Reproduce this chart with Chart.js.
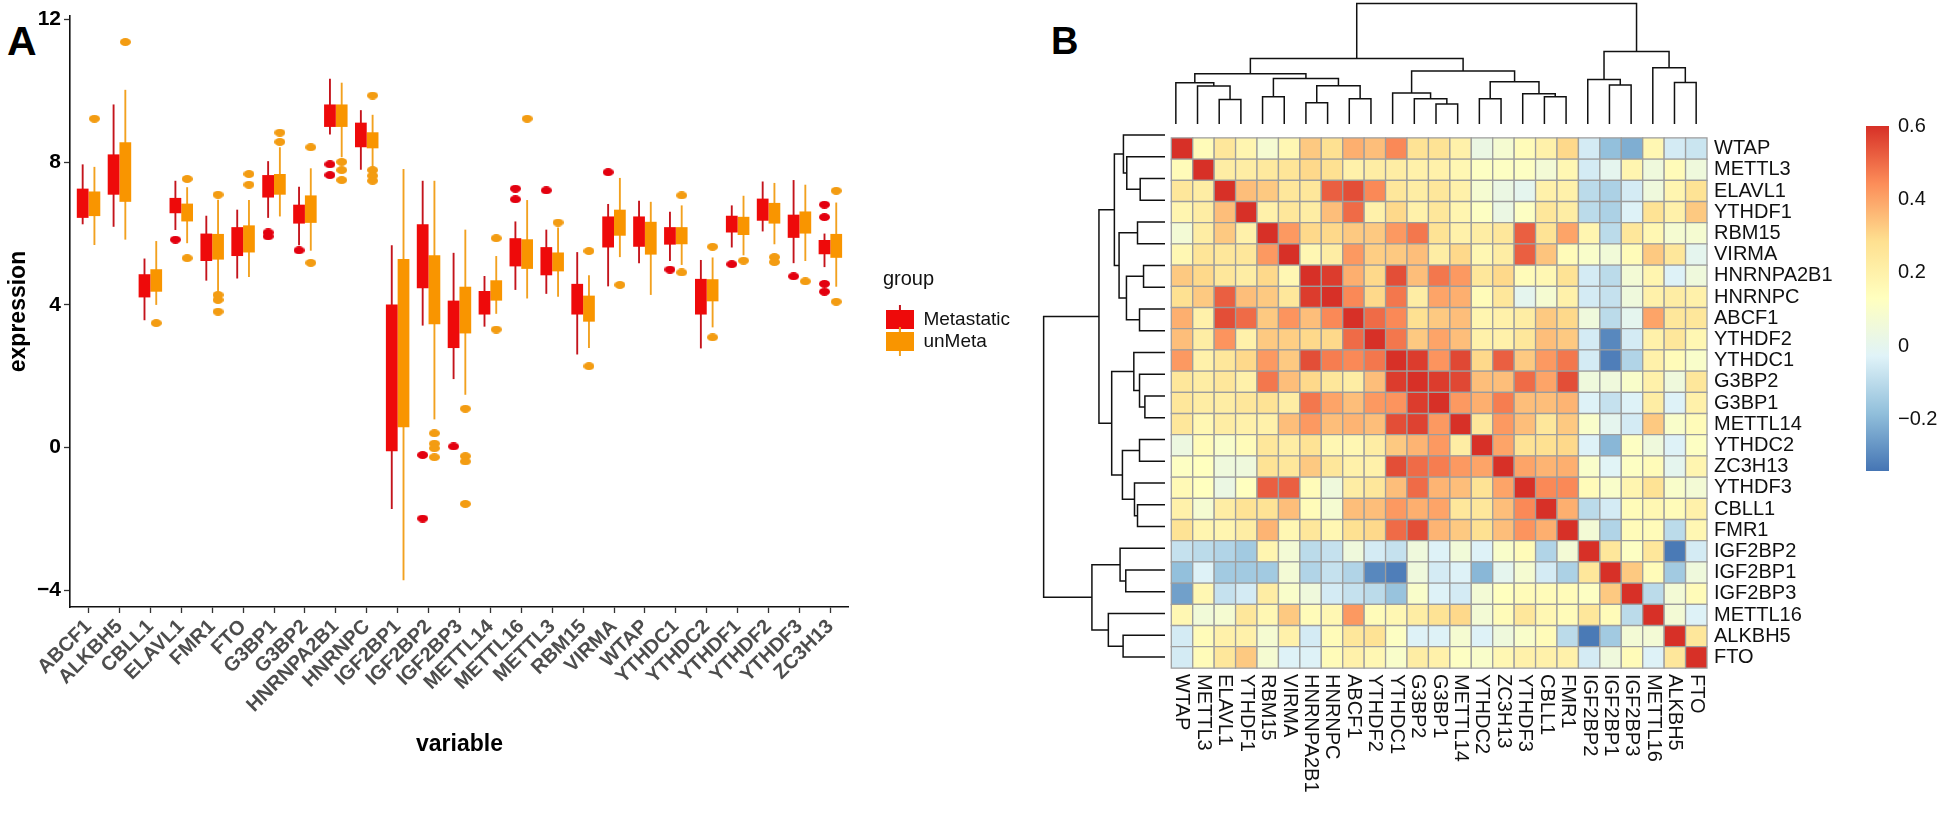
<!DOCTYPE html>
<html>
<head>
<meta charset="utf-8">
<script src="https://cdn.jsdelivr.net/npm/chart.js@4.4.1/dist/chart.umd.min.js"></script>
<style>
  html, body { margin: 0; padding: 0; background: #fff; }
  body { width: 1946px; height: 813px; position: relative; overflow: hidden; font-family: 'Liberation Sans', Arial, sans-serif; }
  canvas { position: absolute; }
  .tag { position: absolute; font-weight: bold; color: #000; line-height: 1; }
</style>
</head>
<body>
<div class="tag" style="left:7px;top:21px;font-size:41px;">A</div>
<div class="tag" style="left:1051px;top:22px;font-size:38px;">B</div>
<canvas id="boxChart" width="1025" height="813" style="left:0;top:0"></canvas>
<canvas id="topTree" width="542" height="124" style="left:1165px;top:0"></canvas>
<canvas id="leftTree" width="125" height="544" style="left:1040px;top:124px"></canvas>
<canvas id="heatChart" width="708" height="690" style="left:1160px;top:119px"></canvas>
<canvas id="colorKey" width="80" height="387" style="left:1866px;top:105px"></canvas>
<script>
// ---------- Panel A: expression by gene and group ----------
const genes = ['ABCF1', 'ALKBH5', 'CBLL1', 'ELAVL1', 'FMR1', 'FTO', 'G3BP1', 'G3BP2', 'HNRNPA2B1', 'HNRNPC',
  'IGF2BP1', 'IGF2BP2', 'IGF2BP3', 'METTL14', 'METTL16', 'METTL3', 'RBM15', 'VIRMA', 'WTAP', 'YTHDC1',
  'YTHDC2', 'YTHDF1', 'YTHDF2', 'YTHDF3', 'ZC3H13'];
const groups = ['Metastatic', 'unMeta'];

// Metastatic: whisker ends, box edges, outliers
const metLow  = [6.26, 6.19, 3.57, 6.10, 4.68, 4.74, 6.44, 5.67, 8.78, 7.79, -1.72, 3.42, 1.92, 3.39, 4.42, 4.31, 2.61, 4.52, 5.17, 5.23, 2.78, 5.61, 6.06, 5.17, 5.06];
const metQ1   = [6.44, 7.09, 4.21, 6.57, 5.23, 5.37, 7.01, 6.28, 8.99, 8.42, -0.10, 4.47, 2.79, 3.73, 5.08, 4.83, 3.73, 5.61, 5.63, 5.69, 3.73, 6.03, 6.36, 5.88, 5.42];
const metQ3   = [7.26, 8.22, 4.86, 7.00, 6.00, 6.18, 7.64, 6.81, 9.62, 9.11, 4.01, 6.26, 4.12, 4.39, 5.87, 5.62, 4.59, 6.48, 6.48, 6.18, 4.73, 6.50, 6.98, 6.53, 5.82];
const metHigh = [7.94, 9.62, 5.30, 7.48, 6.50, 6.67, 8.03, 7.31, 10.34, 9.46, 5.67, 7.48, 5.46, 4.81, 6.34, 6.11, 5.48, 6.83, 6.92, 6.61, 5.26, 6.79, 7.46, 7.50, 6.00];
const metOut  = [[], [], [], [5.83], [], [], [6.03, 5.92], [5.53], [7.94, 7.64], [], [], [-0.21, -1.99], [0.03], [],
  [7.26, 6.96], [7.21], [], [7.72], [], [4.99], [], [5.14], [], [4.80], [6.81, 6.46, 4.59, 4.37]];

// unMeta
const unLow  = [5.68, 5.83, 4.00, 5.73, 4.37, 4.78, 6.48, 5.52, 8.14, 7.81, -3.72, 0.79, 1.48, 3.75, 4.18, 4.23, 2.79, 5.34, 4.28, 5.12, 3.37, 5.39, 5.70, 5.23, 4.51];
const unQ1   = [6.49, 6.89, 4.37, 6.34, 5.27, 5.47, 7.09, 6.30, 8.99, 8.39, 0.57, 3.46, 3.20, 4.12, 5.01, 4.94, 3.53, 5.94, 5.41, 5.70, 4.10, 5.96, 6.28, 6.00, 5.32];
const unQ3   = [7.18, 8.56, 5.00, 6.84, 5.99, 6.23, 7.67, 7.07, 9.62, 8.84, 5.29, 5.39, 4.51, 4.69, 5.84, 5.47, 4.26, 6.67, 6.33, 6.18, 4.72, 6.47, 6.86, 6.62, 5.99];
const unHigh = [7.87, 10.03, 5.79, 7.30, 6.95, 6.94, 8.42, 7.83, 10.23, 9.33, 7.81, 7.48, 6.11, 5.37, 6.94, 6.17, 4.83, 7.56, 6.89, 6.79, 5.33, 7.06, 7.42, 7.37, 6.87];
const unOut  = [[9.22], [11.37], [3.49], [7.53, 5.31], [7.09, 4.28, 4.14, 3.81], [7.67, 7.37], [8.83, 8.57], [8.42, 5.18],
  [8.01, 7.78, 7.50], [9.87, 7.78, 7.62, 7.48], [], [0.40, 0.11, -0.02, -0.27], [1.09, -0.24, -0.39, -1.58], [5.87, 3.31],
  [9.22], [6.31], [5.51, 2.28], [4.56], [], [7.07, 4.91], [5.63, 3.09], [5.24], [5.34, 5.20], [4.66], [7.20, 4.09]];

const yTicksA = [-4, 0, 4, 8, 12];

// ---------- Panel B: correlation heatmap ----------
const hmOrder = ['WTAP', 'METTL3', 'ELAVL1', 'YTHDF1', 'RBM15', 'VIRMA', 'HNRNPA2B1', 'HNRNPC', 'ABCF1', 'YTHDF2',
  'YTHDC1', 'G3BP2', 'G3BP1', 'METTL14', 'YTHDC2', 'ZC3H13', 'YTHDF3', 'CBLL1', 'FMR1', 'IGF2BP2',
  'IGF2BP1', 'IGF2BP3', 'METTL16', 'ALKBH5', 'FTO'];

const corrRows = [
  [1, 0.15, 0.25, 0.18, 0.08, 0.17, 0.33, 0.28, 0.38, 0.35, 0.45, 0.27, 0.27, 0.20, 0.03, 0.08, 0.15, 0.20, 0.30, -0.05, -0.18, -0.22, 0.17, -0.05, -0.07],
  [0.15, 1, 0.22, 0.22, 0.24, 0.26, 0.30, 0.28, 0.20, 0.22, 0.22, 0.20, 0.20, 0.17, 0.12, 0.12, 0.12, 0.07, 0.17, -0.05, 0.00, 0.18, 0.05, 0.15, 0.05],
  [0.25, 0.22, 1, 0.35, 0.33, 0.25, 0.25, 0.52, 0.55, 0.45, 0.25, 0.22, 0.25, 0.20, 0.08, 0.03, 0.00, 0.20, 0.20, -0.10, -0.13, -0.05, 0.05, 0.18, 0.27],
  [0.18, 0.22, 0.35, 1, 0.20, 0.25, 0.22, 0.35, 0.50, 0.20, 0.30, 0.20, 0.25, 0.18, 0.12, 0.03, 0.12, 0.25, 0.22, -0.10, -0.13, -0.03, 0.27, 0.20, 0.33],
  [0.07, 0.22, 0.33, 0.20, 1, 0.42, 0.30, 0.30, 0.33, 0.33, 0.42, 0.48, 0.27, 0.20, 0.22, 0.25, 0.52, 0.27, 0.40, 0.18, -0.10, 0.25, 0.17, 0.08, 0.08],
  [0.17, 0.26, 0.25, 0.25, 0.42, 1, 0.17, 0.22, 0.42, 0.32, 0.33, 0.35, 0.22, 0.30, 0.17, 0.22, 0.52, 0.34, 0.15, 0.10, 0.06, 0.15, 0.33, 0.25, 0.00],
  [0.33, 0.30, 0.25, 0.22, 0.30, 0.17, 1, 0.58, 0.38, 0.30, 0.55, 0.35, 0.48, 0.42, 0.25, 0.30, 0.15, 0.17, 0.27, -0.05, -0.10, 0.07, 0.18, -0.03, 0.05],
  [0.28, 0.33, 0.52, 0.35, 0.33, 0.25, 0.58, 1, 0.45, 0.30, 0.48, 0.22, 0.40, 0.38, 0.15, 0.25, 0.00, 0.08, 0.20, -0.05, -0.08, 0.05, 0.20, 0.22, 0.20],
  [0.38, 0.20, 0.55, 0.50, 0.33, 0.43, 0.35, 0.45, 1, 0.50, 0.45, 0.28, 0.33, 0.35, 0.18, 0.20, 0.22, 0.33, 0.30, 0.05, -0.10, 0.00, 0.40, 0.25, 0.25],
  [0.35, 0.22, 0.43, 0.20, 0.33, 0.32, 0.30, 0.30, 0.50, 1, 0.48, 0.33, 0.40, 0.35, 0.20, 0.20, 0.25, 0.35, 0.33, -0.05, -0.30, -0.05, 0.20, 0.25, 0.17],
  [0.42, 0.20, 0.25, 0.30, 0.42, 0.33, 0.55, 0.47, 0.45, 0.48, 1, 0.58, 0.43, 0.56, 0.30, 0.52, 0.33, 0.42, 0.48, -0.05, -0.32, -0.12, 0.20, 0.15, 0.10],
  [0.25, 0.22, 0.25, 0.20, 0.48, 0.35, 0.30, 0.25, 0.22, 0.35, 0.58, 1, 0.58, 0.56, 0.35, 0.35, 0.50, 0.40, 0.55, 0.05, 0.05, 0.10, 0.20, 0.05, 0.25],
  [0.25, 0.22, 0.22, 0.25, 0.27, 0.22, 0.48, 0.40, 0.35, 0.42, 0.43, 0.58, 1, 0.42, 0.38, 0.47, 0.35, 0.35, 0.37, -0.03, -0.08, -0.03, 0.22, -0.03, 0.20],
  [0.25, 0.17, 0.22, 0.20, 0.20, 0.35, 0.42, 0.35, 0.37, 0.35, 0.55, 0.57, 0.42, 1, 0.25, 0.42, 0.35, 0.25, 0.33, 0.10, 0.00, -0.05, 0.33, 0.10, 0.15],
  [0.04, 0.15, 0.10, 0.15, 0.25, 0.22, 0.27, 0.17, 0.17, 0.22, 0.33, 0.37, 0.42, 0.22, 1, 0.40, 0.27, 0.28, 0.30, -0.03, -0.20, 0.12, 0.05, -0.03, 0.12],
  [0.12, 0.13, 0.05, 0.05, 0.27, 0.25, 0.33, 0.25, 0.20, 0.20, 0.55, 0.50, 0.47, 0.42, 0.40, 1, 0.40, 0.37, 0.38, 0.10, -0.02, 0.12, 0.15, 0.00, 0.18],
  [0.16, 0.13, 0.03, 0.13, 0.52, 0.52, 0.15, 0.05, 0.22, 0.25, 0.35, 0.50, 0.37, 0.35, 0.27, 0.40, 1, 0.45, 0.45, 0.15, 0.10, 0.18, 0.27, 0.10, 0.07],
  [0.20, 0.08, 0.22, 0.27, 0.27, 0.35, 0.15, 0.08, 0.35, 0.35, 0.42, 0.38, 0.40, 0.25, 0.25, 0.35, 0.45, 1, 0.38, -0.10, -0.05, 0.15, 0.17, 0.15, 0.20],
  [0.27, 0.18, 0.18, 0.22, 0.37, 0.17, 0.25, 0.17, 0.28, 0.30, 0.50, 0.55, 0.37, 0.33, 0.28, 0.35, 0.43, 0.38, 1, 0.07, -0.12, 0.15, 0.15, -0.10, 0.17],
  [-0.08, -0.10, -0.12, -0.15, 0.18, 0.07, -0.10, -0.08, 0.05, -0.05, -0.08, 0.05, -0.03, 0.06, -0.03, 0.10, 0.15, -0.12, 0.07, 1, 0.25, 0.12, 0.25, -0.33, -0.05],
  [-0.18, -0.03, -0.15, -0.15, -0.15, 0.07, -0.12, -0.08, -0.12, -0.30, -0.32, 0.05, -0.05, -0.03, -0.20, 0.00, 0.08, -0.05, -0.13, 0.25, 1, 0.33, 0.15, -0.15, 0.05],
  [-0.25, 0.17, -0.08, -0.05, 0.22, 0.10, 0.05, -0.05, -0.08, -0.10, -0.17, 0.10, -0.03, -0.05, 0.07, 0.13, 0.15, 0.15, 0.15, 0.12, 0.33, 1, -0.10, 0.07, 0.15],
  [0.17, 0.06, 0.08, 0.25, 0.17, 0.33, 0.15, 0.17, 0.42, 0.15, 0.17, 0.22, 0.27, 0.30, 0.07, 0.15, 0.25, 0.17, 0.15, 0.25, 0.15, -0.10, 1, 0.07, -0.03],
  [-0.05, 0.15, 0.20, 0.20, 0.08, 0.20, -0.05, 0.15, 0.25, 0.27, 0.12, -0.03, -0.03, 0.08, -0.03, 0.05, 0.10, 0.15, -0.10, -0.33, -0.15, 0.07, 0.07, 1, 0.25],
  [-0.05, 0.15, 0.25, 0.33, 0.08, -0.03, -0.03, 0.15, 0.20, 0.17, 0.10, 0.22, 0.20, 0.12, 0.10, 0.17, 0.20, 0.20, 0.20, -0.05, 0.05, 0.15, -0.03, 0.25, 1]
];

// hclust style merges: negative = leaf (1-based position in hmOrder), positive = earlier merge; third = height
const merges = [
  [-13, -14, 60], [-7, -8, 64], [-3, -4, 74], [-15, -16, 76], [-9, -10, 76], [-12, 1, 76],
  [-5, -6, 82], [-18, -19, 82], [-11, 6, 93], [-17, 8, 91], [-2, 3, 114], [2, 5, 115],
  [-21, -22, 117], [-1, 11, 124], [-24, -25, 125], [4, 10, 127], [-20, 13, 134], [7, 12, 137],
  [14, 18, 151], [9, 16, 159], [-23, 15, 169], [19, 20, 197], [17, 21, 218], [22, 23, 362]
];

const keyTicks = [-0.2, 0, 0.2, 0.4, 0.6];
const colorMin = -0.34, colorMax = 0.6;
const palette = ['#4575B4', '#91BFDB', '#E0F3F8', '#FFFFBF', '#FEE090', '#FC8D59', '#D73027'];

// ---------- helpers ----------
Chart.defaults.font.family = "'Liberation Sans', Arial, sans-serif";
Chart.defaults.animation = false;

const RED = '#ee0a0a', RED_LINE = '#c4141c', RED_DOT = '#e3000f';
const ORANGE = '#f99500', ORANGE_LINE = '#f2a11f', ORANGE_DOT = '#f39c12';
const dodge = 0.19;
const fmtMinus = v => (v < 0 ? '\u2212' : '') + Math.abs(v);

function keyIcon(fill, line) {
  const c = document.createElement('canvas');
  c.width = 28; c.height = 29;
  const g = c.getContext('2d');
  g.fillStyle = line; g.fillRect(13, 0, 2, 29);
  g.fillStyle = fill; g.fillRect(0, 5, 28, 19);
  return c;
}
function dotIcon(color) {
  const c = document.createElement('canvas');
  c.width = 11; c.height = 8;
  const g = c.getContext('2d');
  g.fillStyle = color;
  g.beginPath(); g.ellipse(5.5, 4, 5.5, 4, 0, 0, Math.PI * 2); g.fill();
  return c;
}
function hexRgb(h) { return [1, 3, 5].map(i => parseInt(h.slice(i, i + 2), 16)); }
function corrColor(v) {
  const t = Math.min(1, Math.max(0, (v - colorMin) / (colorMax - colorMin))) * (palette.length - 1);
  const i = Math.min(Math.floor(t), palette.length - 2), f = t - i;
  const a = hexRgb(palette[i]), b = hexRgb(palette[i + 1]);
  return 'rgb(' + a.map((c, k) => Math.round(c + (b[k] - c) * f)).join(',') + ')';
}
function dendroSegments(list) {
  const pos = [], hgt = [];
  const at = k => k < 0 ? [-k - 0.5, 0] : [pos[k - 1], hgt[k - 1]];
  return list.map(([a, b, h], i) => {
    const [pa, ha] = at(a), [pb, hb] = at(b);
    pos[i] = (pa + pb) / 2; hgt[i] = h;
    return [[pa, ha], [pa, h], [pb, h], [pb, hb]];
  });
}

// ---------- Panel A chart ----------
const boxSet = (label, q1, q3, color, stack) => ({
  label, stack, order: 1, backgroundColor: color, borderWidth: 0,
  categoryPercentage: 0.76, barPercentage: 1,
  data: genes.map((g, i) => ({ x: i, y: [q1[i], q3[i]] }))
});
const whiskerSet = (label, lo, hi, color, stack) => ({
  label, stack, order: 2, backgroundColor: color, borderWidth: 0,
  categoryPercentage: 0.76, barPercentage: 0.16,
  data: genes.map((g, i) => ({ x: i, y: [lo[i], hi[i]] }))
});
const outlierSet = (label, out, color, shift) => ({
  type: 'scatter', label, order: 0, pointStyle: dotIcon(color),
  data: genes.flatMap((g, i) => out[i].map(v => ({ x: i + shift, y: v })))
});
const legendIcons = [keyIcon(RED, RED_LINE), keyIcon(ORANGE, ORANGE_LINE)];

new Chart(document.getElementById('boxChart'), {
  type: 'bar',
  data: {
    datasets: [
      boxSet(groups[0], metQ1, metQ3, RED, 'met'),
      boxSet(groups[1], unQ1, unQ3, ORANGE, 'un'),
      whiskerSet(groups[0], metLow, metHigh, RED_LINE, 'met'),
      whiskerSet(groups[1], unLow, unHigh, ORANGE_LINE, 'un'),
      outlierSet(groups[0], metOut, RED_DOT, -dodge),
      outlierSet(groups[1], unOut, ORANGE_DOT, dodge)
    ]
  },
  options: {
    responsive: false,
    events: [],
    layout: { padding: { top: 16, left: 0, right: 5, bottom: 50 } },
    plugins: {
      tooltip: { enabled: false },
      legend: {
        position: 'right', align: 'center', fullSize: false,
        title: { display: true, text: 'group', color: '#111', font: { size: 20 }, position: 'start', padding: { top: 0, bottom: 14 } },
        labels: {
          usePointStyle: true, pointStyleWidth: 28, boxHeight: 29, padding: 3,
          color: '#111', font: { size: 19 },
          generateLabels: () => groups.map((g, k) => ({
            text: g, pointStyle: legendIcons[k], fillStyle: 'rgba(0,0,0,0)',
            strokeStyle: 'rgba(0,0,0,0)', lineWidth: 0, hidden: false, datasetIndex: k
          }))
        }
      }
    },
    scales: {
      x: {
        type: 'linear', min: -0.6, max: genes.length - 0.4, offset: false, stacked: true,
        afterBuildTicks: s => { s.ticks = genes.map((g, i) => ({ value: i })); },
        afterFit: s => { s.height = 156; },
        ticks: {
          autoSkip: false, minRotation: 45, maxRotation: 45, padding: 2,
          color: '#4d4d4d', font: { size: 20, weight: 'bold' },
          callback: v => genes[v]
        },
        grid: { display: true, drawOnChartArea: false, offset: false, tickLength: 6, tickColor: '#333', tickWidth: 1.3 },
        border: { display: true, color: '#111', width: 1.6 },
        title: { display: true, text: 'variable', color: '#000', font: { size: 23, weight: 'bold' }, padding: { top: 0, bottom: 5 } }
      },
      y: {
        min: -4.47, max: 12.1, stacked: false,
        afterBuildTicks: s => { s.ticks = yTicksA.map(v => ({ value: v })); },
        afterFit: s => { s.width = 70; },
        ticks: { color: '#000', font: { size: 21, weight: 'bold' }, padding: 3, callback: v => fmtMinus(v) },
        grid: { display: true, drawOnChartArea: false, tickLength: 6, tickColor: '#333', tickWidth: 1.3 },
        border: { display: true, color: '#111', width: 1.6 },
        title: { display: true, text: 'expression', color: '#000', font: { size: 23, weight: 'bold' }, padding: { top: 5, bottom: 0 } }
      },
      gap: {
        type: 'linear', position: 'right', display: true,
        ticks: { display: false }, grid: { display: false, drawTicks: false }, border: { display: false },
        afterFit: s => { s.width = 34; }
      }
    }
  }
});

// ---------- Panel B: dendrograms ----------
const segs = dendroSegments(merges);
const treeTop = merges[merges.length - 1][2] * 1.03;
const treeLine = { borderColor: '#111', borderWidth: 1.5, pointRadius: 0, showLine: true, tension: 0, clip: false };

new Chart(document.getElementById('topTree'), {
  type: 'scatter',
  data: { datasets: segs.map(s => ({ ...treeLine, data: s.map(([p, h]) => ({ x: p, y: h })) })) },
  options: {
    responsive: false, events: [],
    plugins: { legend: { display: false }, tooltip: { enabled: false } },
    scales: {
      x: { type: 'linear', min: 0, max: hmOrder.length, display: false },
      y: { type: 'linear', min: 0, max: treeTop, display: false }
    }
  }
});

new Chart(document.getElementById('leftTree'), {
  type: 'scatter',
  data: { datasets: segs.map(s => ({ ...treeLine, data: s.map(([p, h]) => ({ x: h, y: p })) })) },
  options: {
    responsive: false, events: [],
    plugins: { legend: { display: false }, tooltip: { enabled: false } },
    scales: {
      x: { type: 'linear', min: 0, max: treeTop, reverse: true, display: false },
      y: { type: 'linear', min: 0, max: hmOrder.length, reverse: true, display: false }
    }
  }
});

// ---------- Panel B: heatmap ----------
const cells = [];
corrRows.forEach((row, r) => row.forEach((v, c) => cells.push({ x: c + 0.5, y: r + 0.5, v })));
const cellRadius = ctx => {
  const a = ctx.chart.chartArea;
  return a ? (a.right - a.left) / hmOrder.length / Math.SQRT2 : 10;
};
const labelFont = "20px 'Liberation Sans', Arial, sans-serif";

const columnLabels = {
  id: 'columnLabels',
  afterDraw(chart) {
    const { ctx, chartArea, scales: { x } } = chart;
    ctx.save();
    ctx.font = labelFont;
    ctx.fillStyle = '#111';
    ctx.textAlign = 'left';
    ctx.textBaseline = 'middle';
    hmOrder.forEach((name, i) => {
      ctx.save();
      ctx.translate(x.getPixelForValue(i + 0.5), chartArea.bottom + 6);
      ctx.rotate(Math.PI / 2);
      ctx.fillText(name, 0, 0);
      ctx.restore();
    });
    ctx.restore();
  }
};

new Chart(document.getElementById('heatChart'), {
  type: 'scatter',
  data: {
    datasets: [{
      data: cells, pointStyle: 'rect', pointRadius: cellRadius, pointHoverRadius: cellRadius,
      pointBackgroundColor: ctx => ctx.raw ? corrColor(ctx.raw.v) : '#fff',
      pointBorderColor: '#9d9d9d', pointBorderWidth: 1.3, clip: false
    }]
  },
  options: {
    responsive: false, events: [],
    layout: { padding: { left: 5, top: 5, right: 0, bottom: 141 } },
    plugins: { legend: { display: false }, tooltip: { enabled: false } },
    scales: {
      x: { type: 'linear', min: 0, max: hmOrder.length, display: false },
      y: {
        type: 'linear', min: 0, max: hmOrder.length, reverse: true, position: 'right',
        afterBuildTicks: s => { s.ticks = hmOrder.map((n, i) => ({ value: i + 0.5 })); },
        afterFit: s => { s.width = 161; },
        grid: { display: false, drawTicks: false }, border: { display: false },
        ticks: { autoSkip: false, padding: 7, color: '#111', font: { size: 20 }, callback: v => hmOrder[Math.floor(v)] }
      }
    }
  },
  plugins: [columnLabels]
});

// ---------- Panel B: colour key ----------
new Chart(document.getElementById('colorKey'), {
  type: 'bar',
  data: {
    labels: ['key'],
    datasets: [{
      data: [[colorMin, colorMax]], categoryPercentage: 1, barPercentage: 1, borderWidth: 0,
      backgroundColor: ctx => {
        const { chart } = ctx;
        if (!chart.chartArea) return palette[3];
        const y = chart.scales.y;
        const grad = chart.ctx.createLinearGradient(0, y.getPixelForValue(colorMin), 0, y.getPixelForValue(colorMax));
        palette.forEach((col, k) => grad.addColorStop(k / (palette.length - 1), col));
        return grad;
      }
    }]
  },
  options: {
    responsive: false, events: [],
    layout: { padding: { left: 0, top: 20, right: 0, bottom: 20 } },
    plugins: { legend: { display: false }, tooltip: { enabled: false } },
    scales: {
      x: { display: false },
      y: {
        min: colorMin, max: colorMax, position: 'right',
        afterBuildTicks: s => { s.ticks = keyTicks.map(v => ({ value: v })); },
        afterFit: s => { s.width = 57; },
        grid: { display: false, drawTicks: false }, border: { display: false },
        ticks: { padding: 9, color: '#111', font: { size: 20 }, callback: v => fmtMinus(v) }
      }
    }
  }
});
</script>
</body>
</html>
